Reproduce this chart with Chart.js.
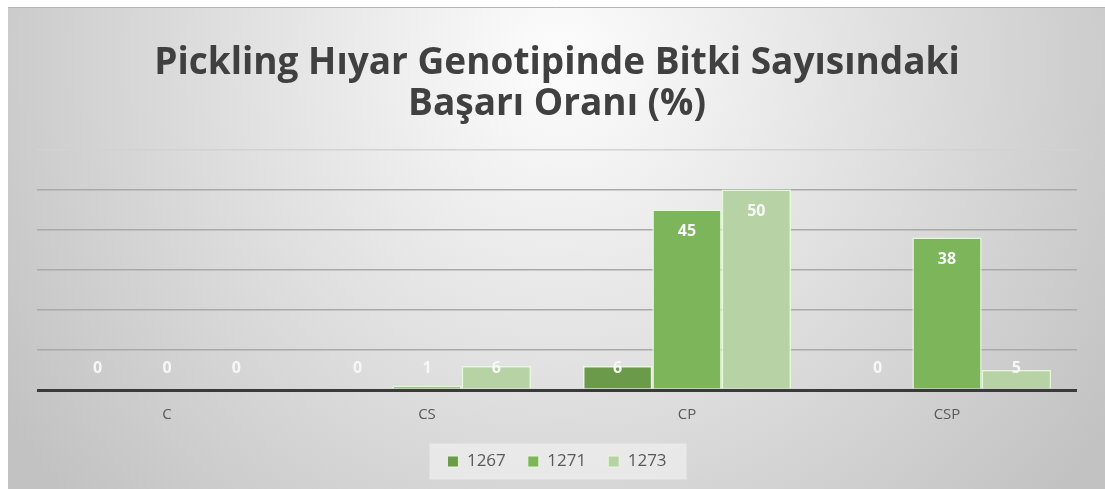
<!DOCTYPE html>
<html>
<head>
<meta charset="utf-8">
<script src="https://cdn.jsdelivr.net/npm/chart.js@4"></script>
<style>
  html, body { margin: 0; padding: 0; background: #fff; }
  canvas { display: block; }
</style>
</head>
<body>
<canvas id="chart" width="1105" height="489"></canvas>
<script>
const categories = ['C', 'CS', 'CP', 'CSP'];
const series1267 = [0, 0, 6, 0];
const series1271 = [0, 1, 45, 38];
const series1273 = [0, 6, 50, 5];
const seriesNames = ['1267', '1271', '1273'];
const titleLines = ['Pickling Hıyar Genotipinde Bitki Sayısındaki', 'Başarı Oranı (%)'];

const colors = ['#6b9b4a', '#7db55a', '#b7d3a6'];

// gray radial backdrop like the Excel style
const backdrop = {
  id: 'backdrop',
  beforeDraw(chart) {
    const c = chart.ctx;
    c.save();
    c.fillStyle = '#fff';
    c.fillRect(0, 0, chart.width, chart.height);
    const g = c.createRadialGradient(560, 60, 0, 560, 60, 660);
    g.addColorStop(0, '#fdfdfd');
    g.addColorStop(1, '#c2c2c2');
    c.fillStyle = g;
    c.fillRect(8, 7, chart.width - 8, chart.height - 7);
    c.strokeStyle = '#b4b4b4';
    c.lineWidth = 1;
    c.beginPath();
    c.moveTo(8, 7.5);
    c.lineTo(chart.width, 7.5);
    c.stroke();
    // legend panel
    const boxes = chart.legend.legendHitBoxes;
    if (boxes && boxes.length) {
      const l = boxes[0].left - 18;
      const last = boxes[boxes.length - 1];
      const r = last.left + last.width + 20;
      const cy = boxes[0].top + boxes[0].height / 2;
      c.fillStyle = 'rgba(235,235,235,0.85)';
      c.fillRect(l, cy - 18, r - l, 36);
    }
    c.restore();
  }
};

const valueLabels = {
  id: 'valueLabels',
  afterDatasetsDraw(chart) {
    const c = chart.ctx;
    const base = chart.scales.y.getPixelForValue(0);
    c.save();
    c.fillStyle = '#f7f7f7';
    c.font = 'bold 16px "Open Sans"';
    c.textAlign = 'center';
    c.textBaseline = 'middle';
    chart.data.datasets.forEach((ds, i) => {
      chart.getDatasetMeta(i).data.forEach((bar, j) => {
        const y = Math.min(bar.y + 22, base - 22);
        c.fillText(String(ds.data[j]), bar.x, y);
      });
    });
    c.restore();
  }
};

new Chart(document.getElementById('chart'), {
  type: 'bar',
  data: {
    labels: categories,
    datasets: [series1267, series1271, series1273].map((d, i) => ({
      label: seriesNames[i],
      data: d,
      backgroundColor: colors[i],
      borderColor: 'rgba(232,250,218,0.95)',
      borderWidth: 1.5,
      categoryPercentage: 0.8,
      barPercentage: 1.0
    }))
  },
  options: {
    responsive: false,
    animation: false,
    layout: { padding: { left: 37, right: 28, top: 0, bottom: 9 } },
    plugins: {
      title: {
        display: true,
        text: titleLines,
        color: '#404040',
        font: { family: 'Open Sans', size: 37, weight: 'bold', lineHeight: 1.1 },
        padding: { top: 43, bottom: 25 }
      },
      legend: {
        position: 'bottom',
        labels: {
          color: '#595959',
          font: { family: 'Open Sans', size: 17 },
          boxWidth: 11,
          boxHeight: 11,
          padding: 22,
          generateLabels(chart) {
            return chart.data.datasets.map((ds, i) => ({
              text: ds.label,
              fillStyle: ds.backgroundColor,
              strokeStyle: 'rgba(232,250,218,0.95)',
              lineWidth: 1,
              datasetIndex: i,
              fontColor: '#595959'
            }));
          }
        }
      },
      tooltip: { enabled: false }
    },
    scales: {
      x: {
        grid: { display: false, drawTicks: false },
        border: { display: false },
        ticks: { color: '#595959', font: { family: 'Open Sans', size: 15 }, padding: 16 },
        afterFit(scale) { scale.height = 41; }
      },
      y: {
        min: 0,
        max: 60,
        ticks: { display: false, stepSize: 10 },
        border: { display: false },
        grid: {
          drawTicks: false,
          color: ctx => ctx.tick.value === 0 ? '#3a3a3a' : (ctx.tick.value === 60 ? '#d2d2d2' : '#a9a9a9'),
          lineWidth: ctx => ctx.tick.value === 0 ? 3 : 1.5
        }
      }
    }
  },
  plugins: [backdrop, valueLabels]
});
</script>
</body>
</html>
